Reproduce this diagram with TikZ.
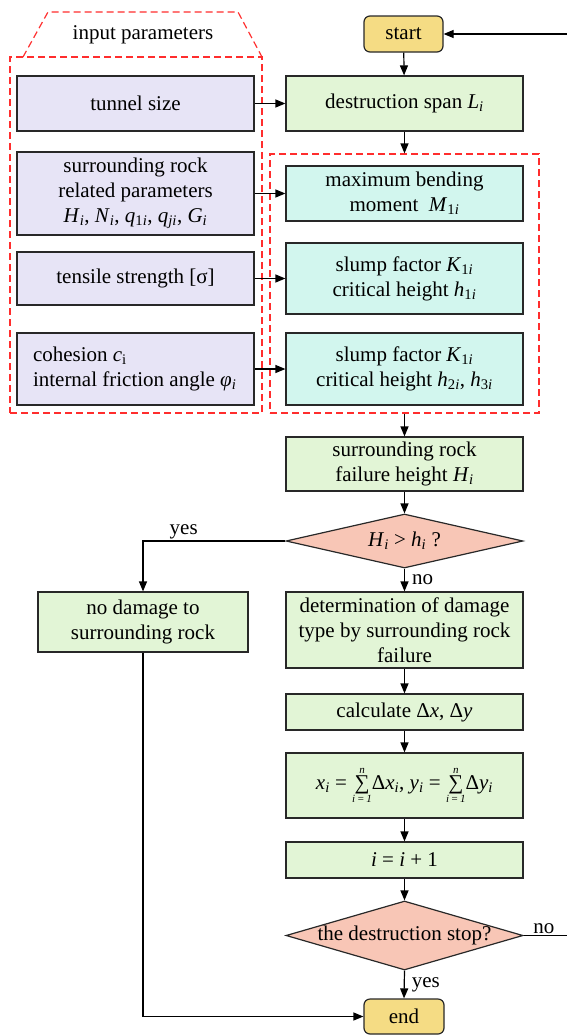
\documentclass[tikz,border=0pt]{standalone}
\usepackage{fontspec}
\setmainfont{Liberation Serif}
\usetikzlibrary{arrows.meta,shapes.geometric}
\definecolor{lavc}{RGB}{231,228,246}
\definecolor{grnc}{RGB}{226,245,214}
\definecolor{cync}{RGB}{210,246,238}
\definecolor{salc}{RGB}{248,198,182}
\definecolor{yelc}{RGB}{245,220,132}
\definecolor{redc}{RGB}{255,45,45}
\definecolor{bordc}{RGB}{40,40,40}
\newcommand\vi[1]{\textit{#1}}
\newcommand\sbs[1]{\textsubscript{#1}}
\newcommand\fsz{\fontsize{21}{25}\selectfont}
\newcommand\limf{\fontsize{11}{11}\selectfont\itshape}
\newcommand\Smm{\ensuremath{\mathop{\hbox{∑}}\limits^{\hbox{\limf n}}_{\hbox{\limf i\,=\,1}}}}
\tikzset{
  base/.style={draw=bordc, line width=1.2pt, inner sep=0pt, align=center, font=\fsz},
  lav/.style={base, fill=lavc},
  grn/.style={base, fill=grnc},
  cyn/.style={base, fill=cync},
  term/.style={base, fill=yelc, rounded corners=6pt},
  dec/.style={base, fill=salc, diamond},
  arr/.style={draw=black, line width=1.2pt, -{Triangle[length=10pt,width=8pt]}},
  reddash/.style={draw=redc, line width=1.2pt, dash pattern=on 7pt off 4pt},
  lbl/.style={font=\fsz, inner sep=1pt},
}
\begin{document}
\begin{tikzpicture}[x=1pt,y=-1pt]
\useasboundingbox (0,0) rectangle (567,1036);
% groups
\node[reddash, minimum width=252pt, minimum height=356pt, inner sep=0pt] (grpL) at (136,235) {};
\draw[reddash] (23,57) -- (48,12) -- (238,12) -- (262,57);
\node[lbl] (inp) at (143,35) {input parameters};
\node[reddash, minimum width=269pt, minimum height=259pt, inner sep=0pt] (grpR) at (404.5,283.5) {};
% left inputs
\node[lav, minimum width=237pt, minimum height=55pt] (tunnel) at (135.5,103.5) {tunnel size};
\node[lav, minimum width=237pt, minimum height=83pt] (surr) at (135.5,193.5) {surrounding rock\\related parameters\\\vi{H}\sbs{\vi{i}}, \vi{N}\sbs{\vi{i}}, \vi{q}\sbs{1\vi{i}}, \vi{q}\sbs{\vi{ji}}, \vi{G}\sbs{\vi{i}}};
\node[lav, minimum width=237pt, minimum height=53pt] (tens) at (135.5,278.5) {tensile strength [σ]};
\node[lav, minimum width=237pt, minimum height=72pt] (coh) at (135.5,369) {\makebox[205pt][l]{\begin{tabular}{@{}l@{}}cohesion \vi{c}\sbs{i}\\internal friction angle \vi{φ}\sbs{\vi{i}}\end{tabular}}};
% main column
\node[term, minimum width=79pt, minimum height=36pt] (start) at (403.5,34) {start};
\node[grn, minimum width=237pt, minimum height=55pt] (span) at (404.5,103.5) {destruction span \vi{L}\sbs{\vi{i}}};
\node[cyn, minimum width=237pt, minimum height=55pt] (maxb) at (404.5,193.5) {maximum bending\\moment\ \ \vi{M}\sbs{1\vi{i}}};
\node[cyn, minimum width=237pt, minimum height=71pt] (sl1) at (404.5,278.5) {slump factor \vi{K}\sbs{1\vi{i}}\\critical height \vi{h}\sbs{1\vi{i}}};
\node[cyn, minimum width=237pt, minimum height=72pt] (sl2) at (404.5,369) {slump factor \vi{K}\sbs{1\vi{i}}\\critical height \vi{h}\sbs{2\vi{i}}, \vi{h}\sbs{3\vi{i}}};
\node[grn, minimum width=237pt, minimum height=54pt] (fail) at (404.5,464) {surrounding rock\\failure height \vi{H}\sbs{\vi{i}}};
\node[dec, minimum width=237pt, minimum height=54pt] (d1) at (404.5,541) {\makebox[0pt]{\vi{H}\sbs{\vi{i}} > \vi{h}\sbs{\vi{i}} ?}};
\node[grn, minimum width=237pt, minimum height=76pt] (det) at (404.5,630) {determination of damage\\type by surrounding rock\\failure};
\node[grn, minimum width=210pt, minimum height=60pt] (nodmg) at (143,622) {no damage to\\surrounding rock};
\node[grn, minimum width=237pt, minimum height=36pt] (calc) at (404.5,712) {calculate Δ\vi{x}, Δ\vi{y}};
\node[grn, minimum width=237pt, minimum height=65pt] (sum) at (404.5,785.5) {\vi{x}\sbs{\vi{i}} = \Smm Δ\vi{x}\sbs{\vi{i}}, \vi{y}\sbs{\vi{i}} = \Smm Δ\vi{y}\sbs{\vi{i}}};
\node[grn, minimum width=237pt, minimum height=36pt] (inc) at (404.5,860) {\vi{i} = \vi{i} + 1};
\node[dec, minimum width=237pt, minimum height=69pt] (d2) at (404.5,935.5) {\makebox[0pt]{the destruction stop?}};
\node[term, minimum width=80pt, minimum height=35pt] (end) at (404,1016.5) {end};
\coordinate (rx) at (568,0);
% connectors
\draw[arr] (start) -- (span);
\draw[arr] (tunnel.east) -- (tunnel.east -| span.west);
\draw[arr] (surr.east) -- (surr.east -| maxb.west);
\draw[arr] (tens.east) -- (tens.east -| sl1.west);
\draw[arr] (coh.east) -- (coh.east -| sl2.west);
\draw[arr] (span.south) -- (grpR.north);
\draw[arr] (grpR.south) -- (fail.north);
\draw[arr] (fail) -- (d1);
\draw[arr] (d1.south) -- node[lbl, right, xshift=6pt] {no} (det.north);
\draw[arr] (d1.west) -| node[lbl, above, pos=0.357] {yes} (nodmg.north);
\draw[arr] (det) -- (calc);
\draw[arr] (calc) -- (sum);
\draw[arr] (sum) -- (inc);
\draw[arr] (inc) -- (d2);
\draw[arr] (d2.south) -- node[lbl, right, xshift=6pt] {yes} (end.north);
\draw[arr] (d2.east) -- node[lbl, above, xshift=-2pt] {no} (d2.east -| rx) |- (start.east);
\draw[arr] (nodmg.south) |- (end.west);
\end{tikzpicture}
\end{document}
